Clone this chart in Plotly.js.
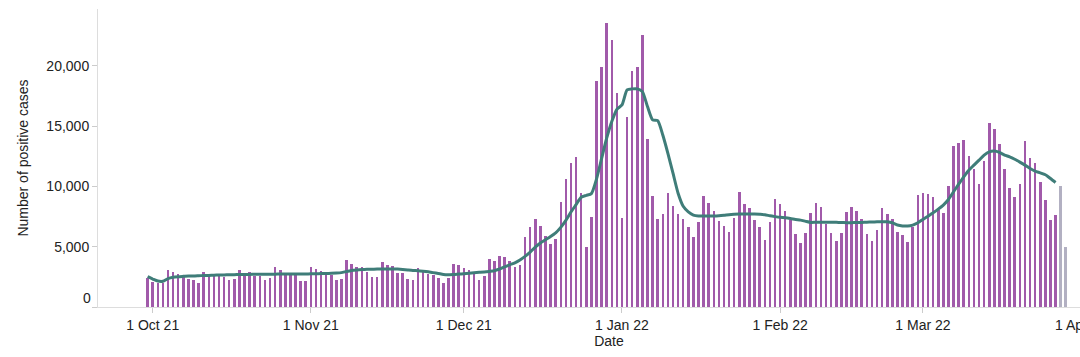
<!DOCTYPE html>
<html>
<head>
<meta charset="utf-8">
<script src="https://cdn.plot.ly/plotly-3.0.1.min.js"></script>
<style>
html,body{margin:0;padding:0;overflow:hidden;background:#fff;}
#chart{width:1120px;height:357px;}
</style>
</head>
<body>
<div id="chart"></div>
<script>
// First reported date of the daily series
const startDate = '2021-09-30';

// Daily positive cases (complete data)
const casesComplete = [
2430,2100,1960,2010,3040,2930,2730,2510,2290,2260,
1960,2930,2730,2730,2730,2460,2240,2320,3040,2840,
2930,2570,2570,2240,2430,3310,3040,2650,2650,2650,
2150,2150,3310,3120,3010,2650,2650,2240,2290,3890,
3560,3340,3340,2930,2460,2510,3730,3480,3400,2840,
2790,2320,2240,3200,2930,2700,2650,2370,1960,2430,
3530,3480,3230,3060,2790,2240,2540,3950,3840,4220,
4110,3840,3340,3450,5820,6600,7290,6710,5880,5220,
5600,8690,10570,11950,12450,9410,4940,7480,18770,19870,
23520,22140,17770,7380,15730,19570,19870,22550,13930,9200,
7270,7700,9480,8370,7710,7290,6600,5820,7070,9190,
8580,7980,7090,6710,6240,7400,9550,8500,8170,7200,
6600,5550,7010,8940,8500,7980,7200,6020,5330,6100,
7810,8580,8250,6840,6100,5490,6100,7870,8250,7980,
7260,6020,5490,6380,8170,7700,7260,6210,5960,5410,
6600,9270,9470,9330,9080,8030,7760,10050,13330,13610,
13880,12500,11430,10160,12120,15290,14790,13550,11430,9880,
9080,10160,13720,12310,11900,10380,8910,7200,7590
];
// Most recent days (incomplete data)
const casesIncomplete = [10020, 4940];

// Rolling average line
const rollingAvg = [
2510,2320,2150,2130,2350,2460,2510,2540,2570,2570,
2590,2610,2620,2640,2650,2660,2670,2680,2690,2700,
2700,2710,2710,2720,2720,2720,2730,2730,2730,2740,
2740,2740,2750,2760,2770,2780,2790,2810,2850,2950,
3030,3070,3100,3120,3130,3150,3150,3150,3150,3140,
3110,3070,3030,3010,2970,2920,2850,2780,2700,2680,
2690,2730,2760,2800,2840,2870,2900,2950,3010,3150,
3330,3500,3660,3900,4200,4550,4970,5310,5580,5850,
6150,6600,7180,7870,8490,9100,9250,9400,10600,12300,
13990,15370,16390,16750,17990,18080,18080,17850,16610,15510,
15450,14260,12740,11090,9430,8350,7890,7620,7540,7540,
7540,7540,7560,7600,7650,7680,7700,7700,7700,7700,
7680,7650,7560,7490,7430,7400,7340,7260,7200,7100,
7010,7020,7030,7030,7030,7020,7000,6990,6990,7000,
7010,7030,7040,7060,7070,7060,6980,6800,6720,6710,
6790,6980,7260,7530,7810,8110,8450,8910,9550,10180,
10790,11340,11760,12170,12590,12860,12920,12810,12590,12450,
12250,12010,11760,11480,11260,11120,10960,10650,10320
];

const yTicks = [0, 5000, 10000, 15000, 20000];
const yTickText = ['', '5,000', '10,000', '15,000', '20,000'];

function dayString(offset) {
  const d = new Date(startDate + 'T00:00:00Z');
  d.setUTCDate(d.getUTCDate() + offset);
  return d.toISOString().slice(0, 10);
}
const allDates = [];
for (let i = 0; i < casesComplete.length + casesIncomplete.length; i++) allDates.push(dayString(i));
const datesComplete = allDates.slice(0, casesComplete.length);
const datesIncomplete = allDates.slice(casesComplete.length);
const datesAvg = allDates.slice(0, rollingAvg.length);

const DAY = 86400000;
const font = {family: 'Liberation Sans, Arial, sans-serif', size: 14, color: '#222'};

const traces = [
  {type: 'bar', x: datesComplete, y: casesComplete, width: DAY * 0.5,
   marker: {color: '#a15aaa', line: {width: 0}}, hoverinfo: 'x+y', showlegend: false},
  {type: 'bar', x: datesIncomplete, y: casesIncomplete, width: DAY * 0.5,
   marker: {color: '#b2b0c2', line: {width: 0}}, hoverinfo: 'x+y', showlegend: false},
  {type: 'scatter', mode: 'lines', x: datesAvg, y: rollingAvg,
   line: {color: '#3f7d79', width: 3, shape: 'spline', smoothing: 0.6}, hoverinfo: 'x+y', showlegend: false}
];

const layout = {
  width: 1120, height: 357,
  margin: {l: 98, r: 0, t: 9, b: 50},
  paper_bgcolor: '#fff', plot_bgcolor: '#fff',
  font: font,
  bargap: 0,
  xaxis: {
    type: 'date',
    range: ['2021-09-20 06:39', '2022-04-08 15:10'],
    tick0: '2021-10-01', dtick: 'M1',
    tickformat: '%-d %b %y',
    ticks: 'outside', ticklen: 5, tickcolor: '#cccccc', tickwidth: 1,
    showgrid: false, zeroline: false,
    showline: true, linecolor: '#dddddd', linewidth: 1,
    ticklabeloverflow: 'allow',
    tickfont: font,
    title: {text: 'Date', font: font, standoff: 2}
  },
  yaxis: {
    range: [0, 24700],
    tickvals: yTicks, ticktext: yTickText,
    ticks: 'outside', ticklen: 5, tickcolor: '#cccccc', tickwidth: 1,
    showgrid: false, zeroline: false,
    showline: true, linecolor: '#dddddd', linewidth: 1,
    tickfont: font,
    title: {text: 'Number of positive cases', font: font, standoff: 14}
  },
  annotations: [
    {xref: 'paper', yref: 'y', x: 0, y: 0, text: '0', showarrow: false,
     xanchor: 'right', yanchor: 'bottom', xshift: -5, yshift: -1, font: font}
  ]
};

Plotly.newPlot('chart', traces, layout, {displayModeBar: false, staticPlot: true});
</script>
</body>
</html>
